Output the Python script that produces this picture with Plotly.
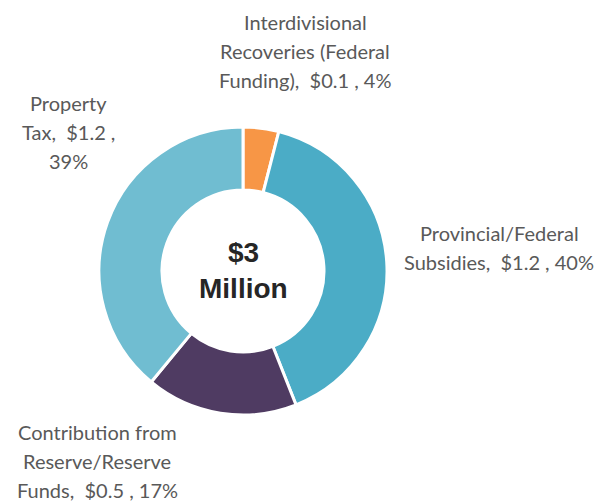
import plotly.graph_objects as go

# Data
categories = [
    "Interdivisional Recoveries (Federal Funding)",
    "Provincial/Federal Subsidies",
    "Contribution from Reserve/Reserve Funds",
    "Property Tax",
]
amounts = [0.1, 1.2, 0.5, 1.2]          # $ millions (as labelled)
percents = [4, 40, 17, 39]              # share of total (%)
colors = ["#F79646", "#4BACC6", "#4F3B62", "#70BDD1"]
center_lines = ["$3", "Million"]

# label text, broken into lines as in the reference
label_lines = [
    ["Interdivisional", "Recoveries (Federal", "Funding),  $0.1 , 4%"],
    ["Provincial/Federal", "Subsidies,  $1.2 , 40%"],
    ["Contribution from", "Reserve/Reserve", "Funds,  $0.5 , 17%"],
    ["Property", "Tax,  $1.2 ,", "39%"],
]

W, H = 603, 504

fig = go.Figure(
    go.Pie(
        labels=categories,
        values=percents,
        customdata=amounts,
        sort=False,
        direction="clockwise",
        rotation=0,
        hole=0.5625,
        marker=dict(colors=colors, line=dict(color="white", width=3)),
        textinfo="none",
        hoverinfo="label+value",
        domain=dict(x=[99 / W, 387 / W], y=[1 - 415 / H, 1 - 127 / H]),
    )
)

# label placement (pixel centre of first line, line spacing)
label_pos = [(305, 22), (499, 233), (97, 432), (68, 103)]
line_gap = 29

annotations = []
for lines, (cx, cy) in zip(label_lines, label_pos):
    for i, t in enumerate(lines):
        annotations.append(
            dict(
                text=t, x=cx / W, y=1 - (cy + i * line_gap) / H,
                xref="paper", yref="paper", showarrow=False,
                xanchor="center", yanchor="middle",
                font=dict(family="Lato, Open Sans, sans-serif", size=20, color="#595959"),
            )
        )

for i, t in enumerate(center_lines):
    annotations.append(
        dict(
            text="<b>" + t + "</b>", x=243 / W, y=1 - (252 + i * 36) / H,
            xref="paper", yref="paper", showarrow=False,
            xanchor="center", yanchor="middle",
            font=dict(family="Liberation Sans, Arial, sans-serif", size=28, color="#262626"),
        )
    )

fig.update_layout(
    width=W, height=H,
    margin=dict(l=0, r=0, t=0, b=0),
    showlegend=False,
    paper_bgcolor="white",
    plot_bgcolor="white",
    annotations=annotations,
)

fig.write_html(
    "out.html",
    config={"displayModeBar": False},
    post_script="document.body.style.margin='0';document.body.style.overflow='hidden';",
)
